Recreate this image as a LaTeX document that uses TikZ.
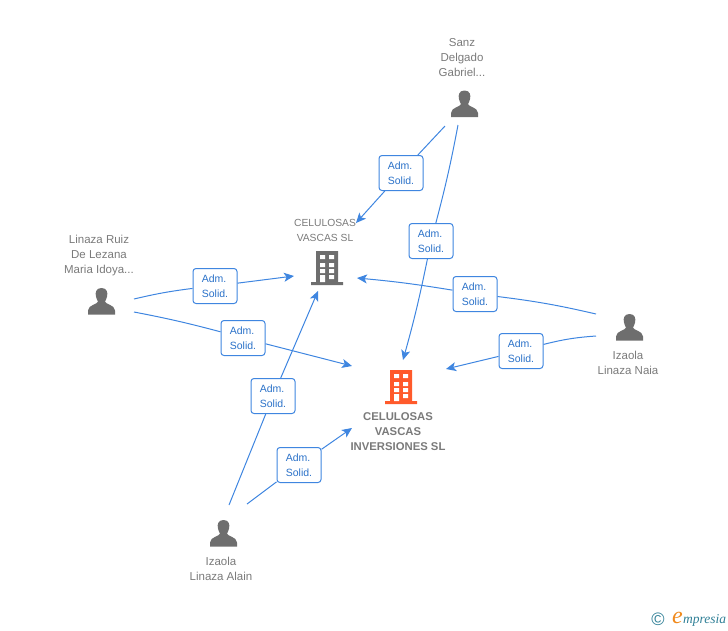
\documentclass[tikz,border=0pt]{standalone}
\usepackage{fontspec}
\setmainfont{Liberation Sans}
\newfontfamily\logofont{Liberation Serif}
\usepackage{xcolor}
\usepackage{tikz}
\usetikzlibrary{positioning, arrows.meta}

\definecolor{linkblue}{HTML}{3F86E0}
\definecolor{labelblue}{HTML}{2B72C9}
\definecolor{icongray}{HTML}{6E6E6E}
\definecolor{textgray}{HTML}{7A7A7A}
\definecolor{targetred}{HTML}{FF5A2B}
\definecolor{logoteal}{HTML}{2F7F96}
\definecolor{logoorange}{HTML}{F08A1D}

\tikzset{
  hub/.style={inner sep=0pt, minimum size=1pt},
  name label/.style={text=textgray, align=center, font=\fontsize{11.5}{15}\selectfont},
  link/.style={linkblue, line width=1pt},
  linkarrow/.style={link, -{Stealth[length=10pt, width=9pt, inset=2.5pt]}},
  admbox/.style={draw=linkblue, line width=1pt, fill=white, rounded corners=3pt, minimum width=44pt, minimum height=35pt,
    inner sep=0pt, align=left, text=labelblue, font=\fontsize{10.5}{15}\selectfont},
  personicon/.pic={
    \fill[icongray] (0,-13.5) .. controls (-5.5,-13.5) and (-6.5,-9) .. (-5.5,-5) .. controls (-5,-2.5) and (-4,-1) .. (-3.5,0)
      .. controls (-4,3) and (-13,3) .. (-13.5,9) -- (-13.5,13) -- (13.5,13) -- (13.5,9) .. controls (13,3) and (4,3) .. (3.5,0)
      .. controls (4,-1) and (5,-2.5) .. (5.5,-5) .. controls (6.5,-9) and (5.5,-13.5) .. (0,-13.5) -- cycle;
  },
  buildingicon/.pic={
    \fill[pic actions] (-11,-17) rectangle (11,14) (-16,14) rectangle (16,17);
    \fill[white] (-7,-13) rectangle (-2,-9) (2,-13) rectangle (7,-9)
      (-7,-5) rectangle (-2,-1) (2,-5) rectangle (7,-1)
      (-7,1) rectangle (-2,5) (2,1) rectangle (7,5)
      (-7,7) rectangle (-2,14) (2,7) rectangle (7,11);
  }
}

\begin{document}
\begin{tikzpicture}[x=1pt, y=-1pt, node distance=20pt]
  \useasboundingbox (0,0) rectangle (728,630);

  % people and companies
  \node[hub] (sanz)      at (464,105) {};
  \node[hub] (linaza)    at (101,304) {};
  \node[hub] (naia)      at (629,325) {};
  \node[hub] (alain)     at (223,533) {};
  \node[hub] (celulosas) at (326,271) {};
  \node[hub] (inversiones) at (400,380) {};

  \pic at (464.5,104) {personicon};
  \pic at (101.5,301.5) {personicon};
  \pic at (629.5,327.5) {personicon};
  \pic at (223.5,533.5) {personicon};
  \pic[icongray] at (327,268) {buildingicon};
  \pic[targetred] at (401,387) {buildingicon};

  \node[name label, above=24pt of sanz.north, anchor=south, xshift=-2pt] (sanzname) {Sanz\\Delgado\\Gabriel...};
  \node[name label, above=24pt of linaza.north, anchor=south, xshift=-2pt] (linazaname) {Linaza Ruiz\\De Lezana\\Maria Idoya...};
  \node[name label, below=22pt of naia.south, anchor=north, xshift=-1pt] (nainame) {Izaola\\Linaza Naia};
  \node[name label, below=20pt of alain.south, anchor=north, xshift=-2pt] (alainname) {Izaola\\Linaza Alain};
  \node[name label, font=\fontsize{10.3}{15}\selectfont, above=25pt of celulosas.north, anchor=south, xshift=-1pt] (celulosasname) {CELULOSAS\\VASCAS SL};
  \node[name label, font=\bfseries\fontsize{11.3}{15}\selectfont, below=28pt of inversiones.south, anchor=north, xshift=-2pt] (inversionesname) {CELULOSAS\\VASCAS\\INVERSIONES SL};

  % boxes on the links
  \node[admbox] (adma) at (215,286) {Adm.\\Solid.};
  \node[admbox] (admb) at (243,338) {Adm.\\Solid.};
  \node[admbox] (admc) at (401,173) {Adm.\\Solid.};
  \node[admbox] (admd) at (431,241) {Adm.\\Solid.};
  \node[admbox] (adme) at (475,294) {Adm.\\Solid.};
  \node[admbox] (admf) at (521,351) {Adm.\\Solid.};
  \node[admbox] (admg) at (273,396) {Adm.\\Solid.};
  \node[admbox] (admh) at (299,465) {Adm.\\Solid.};

  % links
  \draw[link] ([shift={(33,-5)}]linaza.center) to[bend left=3] (adma);
  \draw[linkarrow] (adma) to ([shift={(-32,5)}]celulosas.center);
  \draw[link] ([shift={(33,8)}]linaza.center) to[bend left=2] (admb);
  \draw[linkarrow] (admb) to ([shift={(-48,-14)}]inversiones.center);
  \draw[link] ([shift={(-19,21)}]sanz.center) to (admc);
  \draw[linkarrow] (admc) to ([shift={(30,-48)}]celulosas.center);
  \draw[link] ([shift={(-6,20)}]sanz.center) to[bend left=2] (admd);
  \draw[linkarrow] (admd) to[bend left=2] ([shift={(3,-20)}]inversiones.center);
  \draw[link] ([shift={(-33,-11)}]naia.center) to[bend right=3] (adme);
  \draw[linkarrow] (adme) to[bend right=2] ([shift={(31,7)}]celulosas.center);
  \draw[link] ([shift={(-33,11)}]naia.center) to[bend right=5] (admf);
  \draw[linkarrow] (admf) to ([shift={(46,-11)}]inversiones.center);
  \draw[link] ([shift={(6,-28)}]alain.center) to (admg);
  \draw[linkarrow] (admg) to ([shift={(-8,20)}]celulosas.center);
  \draw[link] ([shift={(24,-29)}]alain.center) to (admh);
  \draw[linkarrow] (admh) to ([shift={(-48,48)}]inversiones.center);

  % logo
  \node[text=logoteal, font=\fontsize{18}{18}\selectfont, inner sep=0pt] (logoc) at (658,619) {©};
  \node[text=logoteal, font=\logofont\itshape\fontsize{13.5}{14}\selectfont, inner sep=0pt, anchor=base west] (logotext) at (683,623) {mpresia};
  \node[text=logoorange, font=\logofont\itshape\fontsize{24}{24}\selectfont, inner sep=0pt, anchor=base east] (logoe) at (logotext.base west) {e};
\end{tikzpicture}
\end{document}
